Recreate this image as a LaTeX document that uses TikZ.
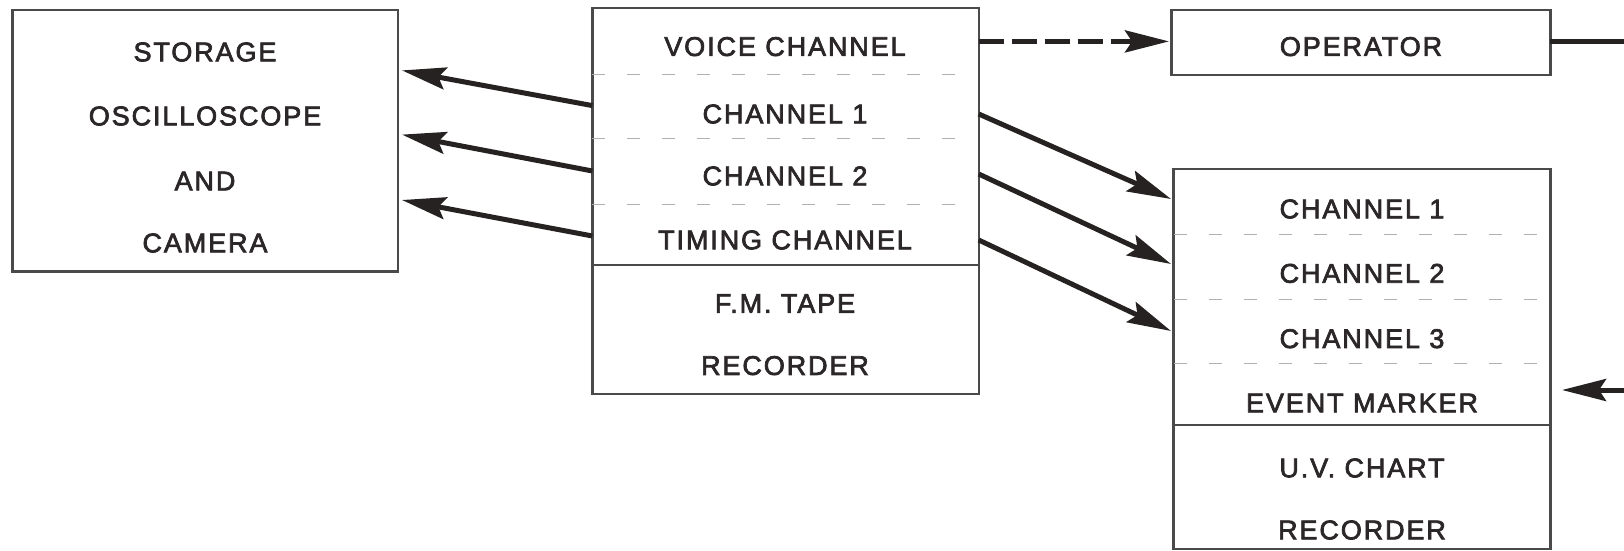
\documentclass[tikz,border=0pt]{standalone}
\usepackage{fontspec}
\setmainfont{Liberation Sans}[LetterSpace=7,FakeBold=2.6]
\usetikzlibrary{arrows.meta}
\definecolor{txt}{HTML}{2B2627}
\definecolor{boxgray}{HTML}{4A4A4A}
\definecolor{arr}{HTML}{262222}
\definecolor{sepgray}{HTML}{B0B0B0}
\begin{document}
\begin{tikzpicture}[x=1pt,y=-1pt,
  box/.style={draw=boxgray, line width=2.2pt, inner sep=0pt, outer sep=0pt, anchor=north west},
  lbl/.style={text=txt, inner sep=0pt, font=\fontsize{27}{30}\selectfont},
  solidsep/.style={draw=boxgray, line width=2.2pt},
  sep/.style={draw=sepgray, line width=1pt, dash pattern=on 13pt off 22pt},
  conn/.style={draw=arr, line width=5pt, -{Stealth[length=44pt,width=22pt,inset=7pt]}},
  dconn/.style={conn, dash pattern=on 25pt off 8pt},
  plain/.style={draw=arr, line width=5pt},
]
\path[use as bounding box] (0,0) rectangle (1624,551);

% boxes
\node[box, minimum width=385.3pt, minimum height=261pt] (st) at (12.4,10.4) {};
\node[box, minimum width=386.3pt, minimum height=385.3pt] (fm) at (592.4,8.3) {};
\node[box, minimum width=379pt, minimum height=64.2pt] (op) at (1171.4,10.4) {};
\node[box, minimum width=376.9pt, minimum height=380.2pt] (uv) at (1173.5,168.8) {};

% dividers FM
\draw[solidsep] (fm.west |- 0,265.1) -- (fm.east |- 0,265.1);
\draw[sep] (fm.west |- 0,74.6) -- (960,74.6);
\draw[sep] (fm.west |- 0,138.8) -- (960,138.8);
\draw[sep] (fm.west |- 0,204) -- (960,204);
% dividers UV
\draw[solidsep] (uv.west |- 0,424.6) -- (uv.east |- 0,424.6);
\draw[sep] (uv.west |- 0,234) -- (1540,234);
\draw[sep] (uv.west |- 0,299.3) -- (1540,299.3);
\draw[sep] (uv.west |- 0,363.5) -- (1540,363.5);

% texts storage
\node[lbl] (st1) at (205,52) {STORAGE};
\node[lbl] (st2) at (205,116) {OSCILLOSCOPE};
\node[lbl] (st3) at (205,181) {AND};
\node[lbl] (st4) at (205,243) {CAMERA};
% texts FM
\node[lbl] (fm1) at (785,46.6) {VOICE CHANNEL};
\node[lbl] (fm2) at (785,114) {CHANNEL 1};
\node[lbl] (fm3) at (785,176) {CHANNEL 2};
\node[lbl] (fm4) at (785,240) {TIMING CHANNEL};
\node[lbl] (fm5) at (785,303.5) {F.M. TAPE};
\node[lbl] (fm6) at (785,365.6) {RECORDER};
% operator
\node[lbl] (op1) at (1361,46.6) {OPERATOR};
% texts UV
\node[lbl] (uv1) at (1362,209) {CHANNEL 1};
\node[lbl] (uv2) at (1362,273.4) {CHANNEL 2};
\node[lbl] (uv3) at (1362,338.7) {CHANNEL 3};
\node[lbl] (uv4) at (1362,403) {EVENT MARKER};
\node[lbl] (uv5) at (1362,468) {U.V. CHART};
\node[lbl] (uv6) at (1362,530) {RECORDER};

% connector coordinates
\coordinate (la1) at (592.4,105.6);
\coordinate (la2) at (592.4,171);
\coordinate (la3) at (592.4,236);
\coordinate (lt1) at (402,70.4);
\coordinate (lt2) at (402,134.6);
\coordinate (lt3) at (402,200);
\coordinate (ra1) at (978.7,114);
\coordinate (ra2) at (978.7,174);
\coordinate (ra3) at (978.7,240);
\coordinate (rt1) at (1171,199);
\coordinate (rt2) at (1171,264);
\coordinate (rt3) at (1171,331);
\coordinate (dv) at (978.7,41.4);
\coordinate (dt) at (1169,41.4);
\coordinate (opR) at (1624,41.4);
\coordinate (evR) at (1624,390);
\coordinate (evT) at (1562,390);

\draw[conn] (la1) -- (lt1);
\draw[conn] (la2) -- (lt2);
\draw[conn] (la3) -- (lt3);
\draw[conn] (ra1) -- (rt1);
\draw[conn] (ra2) -- (rt2);
\draw[conn] (ra3) -- (rt3);
\draw[dconn] (dv) -- (dt);
\draw[plain] (op.east |- opR) -- (opR);
\draw[conn] (evR) -- (evT);
\end{tikzpicture}
\end{document}
